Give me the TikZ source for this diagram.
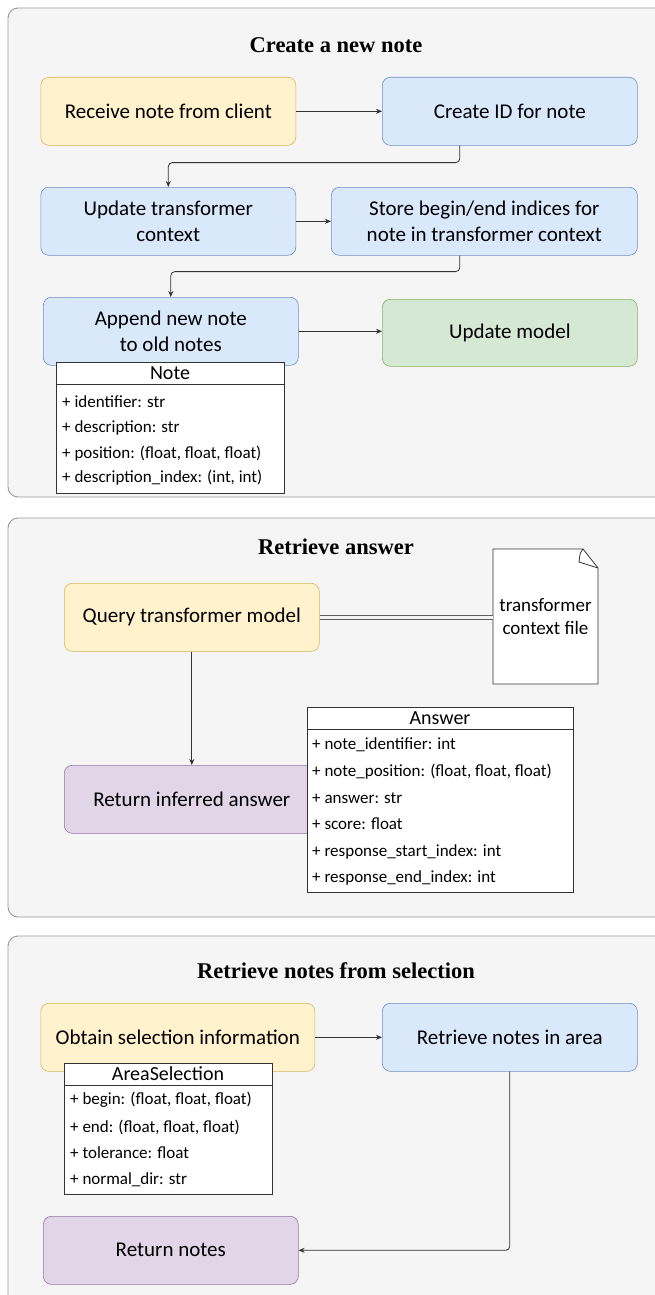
\documentclass[tikz,border=0pt]{standalone}
\usepackage{fontspec}
\setmainfont{Carlito}
\newfontfamily\titlefont{Liberation Serif}
\usepackage{tikz}
\usetikzlibrary{arrows.meta}

\definecolor{panelfill}{HTML}{F5F5F5}
\definecolor{panelline}{HTML}{9A9A9A}
\definecolor{yelfill}{HTML}{FFF2CC}
\definecolor{yelline}{HTML}{D6B656}
\definecolor{bluefill}{HTML}{DAE8FC}
\definecolor{blueline}{HTML}{6C8EBF}
\definecolor{grnfill}{HTML}{D5E8D4}
\definecolor{grnline}{HTML}{82B366}
\definecolor{purfill}{HTML}{E1D5E7}
\definecolor{purline}{HTML}{9673A6}
\definecolor{inkline}{HTML}{333333}

\begin{document}
\begin{tikzpicture}[x=1pt,y=1pt,yscale=-1,xscale=1,
  panel/.style={draw=panelline, fill=panelfill, rounded corners=10pt, line width=0.9pt},
  title/.style={font=\titlefont\bfseries\fontsize{22.5}{26}\selectfont},
  box/.style={rounded corners=8pt, line width=0.6pt, minimum width=255pt, minimum height=68pt,
    align=center, inner sep=2pt, anchor=north west, font=\fontsize{21}{26}\selectfont},
  yelbox/.style={box, draw=yelline, fill=yelfill},
  bluebox/.style={box, draw=blueline, fill=bluefill},
  grnbox/.style={box, draw=grnline, fill=grnfill},
  purbox/.style={box, draw=purline, fill=purfill},
  flow/.style={draw=inkline, line width=0.8pt, rounded corners=4pt, -{Stealth[length=6pt,width=5pt]}},
  classbox/.style={draw=inkline, fill=white, line width=0.8pt},
  classhead/.style={inner sep=0pt, font=\fontsize{20}{22}\selectfont},
  attr/.style={anchor=west, inner sep=0pt, font=\fontsize{17}{20}\selectfont}
]
\useasboundingbox (0,0) rectangle (655,1295);
\fill [white] (0,0) rectangle (655,1295);

%Shape: Panels
\draw [panel] (8,8) rectangle (670,497);
\draw [panel] (8,518) rectangle (670,917);
\draw [panel] (8,936) rectangle (670,1315);

% Text Node
\node [title] (titlenew) at (336,45) {Create a new note};
\node [title] (titleans) at (336,547) {Retrieve answer};
\node [title] (titlesel) at (336,971) {Retrieve notes from selection};

%Create a new note
\node [yelbox] (receive) at (40.5,77) {Receive note from client};
\node [bluebox] (createid) at (382,77) {Create ID for note};
\node [bluebox] (updctx) at (40.5,187) {Update transformer\\context};
\node [bluebox, minimum width=306pt] (storeidx) at (331,187) {Store begin/end indices for\\note in transformer context};
\node [bluebox] (append) at (43,297) {Append new note\\to old notes};
\node [grnbox, minimum height=67pt] (updmodel) at (382,299) {Update model};

\draw [flow] (receive) -- (createid);
\draw [flow] ([xshift=-50pt]createid.south) -- ++(0,17) -| (updctx.north);
\draw [flow] (updctx) -- (storeidx);
\draw [flow] ([xshift=-24.5pt]storeidx.south) -- ++(0,16) -| (append.north);
\draw [flow] (append.east) -- (append.east -| updmodel.west);

%Shape: Class Note
\draw [classbox] (56,362) rectangle (284,493);
\draw [inkline, line width=0.8pt] (56,384) -- (284,384);
\node [classhead] (noteclass) at (170,373) {Note};
\foreach \y/\t [count=\i] in {{402/+ identifier: str}, {428/+ description: str},
    {454/+ position: (float, float, float)}, {478/+ description\_index: (int, int)}}
  \node [attr] (noteattr\i) at (62,\y) {\t};

%Retrieve answer
\node [yelbox] (query) at (64,583) {Query transformer model};
\node [purbox] (retans) at (64,765) {Return inferred answer};

%Shape: Document
\draw [inkline, fill=white, line width=0.8pt] (493,549) -- (583,549) -- (598,568) -- (598,684) -- (493,684) -- cycle;
\draw [inkline, line width=0.8pt] (583,549) .. controls (580,553) .. (579,562) -- (598,568);
\node [inner sep=0pt, minimum width=105pt, minimum height=135pt, align=center,
  font=\fontsize{19}{23}\selectfont] (ctxfile) at (545.5,616.5) {transformer\\context file};

\draw [draw=inkline!80, line width=1pt, double=panelfill, double distance=2.6pt] (query.east) -- (query.east -| ctxfile.west);
\draw [flow] (query) -- (retans);

%Shape: Class Answer
\draw [classbox] (307,707) rectangle (573.5,892);
\draw [inkline, line width=0.8pt] (307,729) -- (573.5,729);
\node [classhead] (ansclass) at (440,718) {Answer};
\foreach \y/\t [count=\i] in {{745/+ note\_identifier: int}, {772/+ note\_position: (float, float, float)},
    {798/+ answer: str}, {824/+ score: float}, {852/+ response\_start\_index: int},
    {878/+ response\_end\_index: int}}
  \node [attr] (ansattr\i) at (312,\y) {\t};

%Retrieve notes from selection
\node [yelbox, minimum width=274pt] (obtain) at (40.5,1003) {Obtain selection information};
\node [bluebox] (inarea) at (382,1003) {Retrieve notes in area};
\node [purbox] (retnotes) at (43,1216) {Return notes};

\draw [flow] (obtain) -- (inarea);
\draw [flow] (inarea.south) |- (retnotes.east);

%Shape: Class AreaSelection
\draw [classbox] (64,1063) rectangle (272,1194);
\draw [inkline, line width=0.8pt] (64,1085) -- (272,1085);
\node [classhead] (areaclass) at (168,1074) {AreaSelection};
\foreach \y/\t [count=\i] in {{1100/+ begin: (float, float, float)}, {1127/+ end: (float, float, float)},
    {1153/+ tolerance: float}, {1180/+ normal\_dir: str}}
  \node [attr] (areaattr\i) at (70,\y) {\t};

\end{tikzpicture}
\end{document}
